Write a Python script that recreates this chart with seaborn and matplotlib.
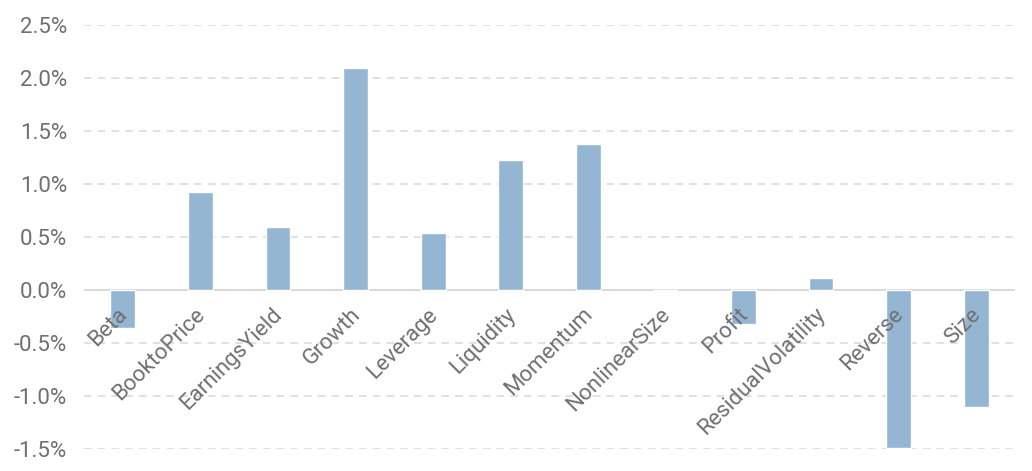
import matplotlib
matplotlib.use("Agg")
import matplotlib.pyplot as plt
import seaborn as sns
import pandas as pd
from matplotlib.ticker import FuncFormatter, MultipleLocator
from matplotlib.transforms import ScaledTranslation

categories = ["Beta", "BooktoPrice", "EarningsYield", "Growth", "Leverage", "Liquidity",
              "Momentum", "NonlinearSize", "Profit", "ResidualVolatility", "Reverse", "Size"]
values = [-0.0036, 0.0092, 0.0059, 0.0209, 0.0054, 0.0123,
          0.0138, 0.0, -0.0032, 0.0011, -0.0149, -0.0110]

sns.set_theme(style="white")
plt.rcParams['font.family'] = ['Roboto', 'DejaVu Sans']
plt.rcParams['font.weight'] = 'normal'

df = pd.DataFrame({"factor": categories, "value": values})

fig = plt.figure(figsize=(10.32, 4.71), dpi=100)
ax = fig.add_axes([0.0814, 0.0467, 0.9021, 0.9002])

sns.barplot(data=df, x="factor", y="value", color="#94B6D2", saturation=1,
            width=0.32, ax=ax, zorder=2)

ax.set_ylim(-0.015, 0.025)
ax.set_xlim(-0.5, len(categories) - 0.5)
ax.yaxis.set_major_locator(MultipleLocator(0.005))
ax.yaxis.set_major_formatter(FuncFormatter(lambda v, p: f"{v*100:.1f}%"))
ax.grid(False)
for t in ax.get_yticks():
    if abs(t) > 1e-9 and -0.0151 <= t <= 0.0251:
        ax.axhline(t, color="#d9d9d9", linestyle=(0, (5, 4)), linewidth=1.1, zorder=0)
ax.axhline(0, color="#d9d9d9", linewidth=1.4, zorder=1)
ax.set_axisbelow(False)

for s in ax.spines.values():
    s.set_visible(False)
ax.spines['bottom'].set_position(('data', 0))
ax.set_xlabel("")
ax.set_ylabel("")
ax.tick_params(axis='both', length=0, colors="#707070", labelsize=16)
ax.tick_params(axis='y', pad=12)
ax.tick_params(axis='x', pad=10)
offset = ScaledTranslation(-6 / 100, 0, fig.dpi_scale_trans)
for lab in ax.get_xticklabels():
    lab.set_rotation(45)
    lab.set_ha('right')
    lab.set_va('top')
    lab.set_rotation_mode('anchor')
    lab.set_transform(lab.get_transform() + offset)
for lab in ax.get_yticklabels() + ax.get_xticklabels():
    lab.set_zorder(5)

fig.savefig("out.png", dpi=100)
